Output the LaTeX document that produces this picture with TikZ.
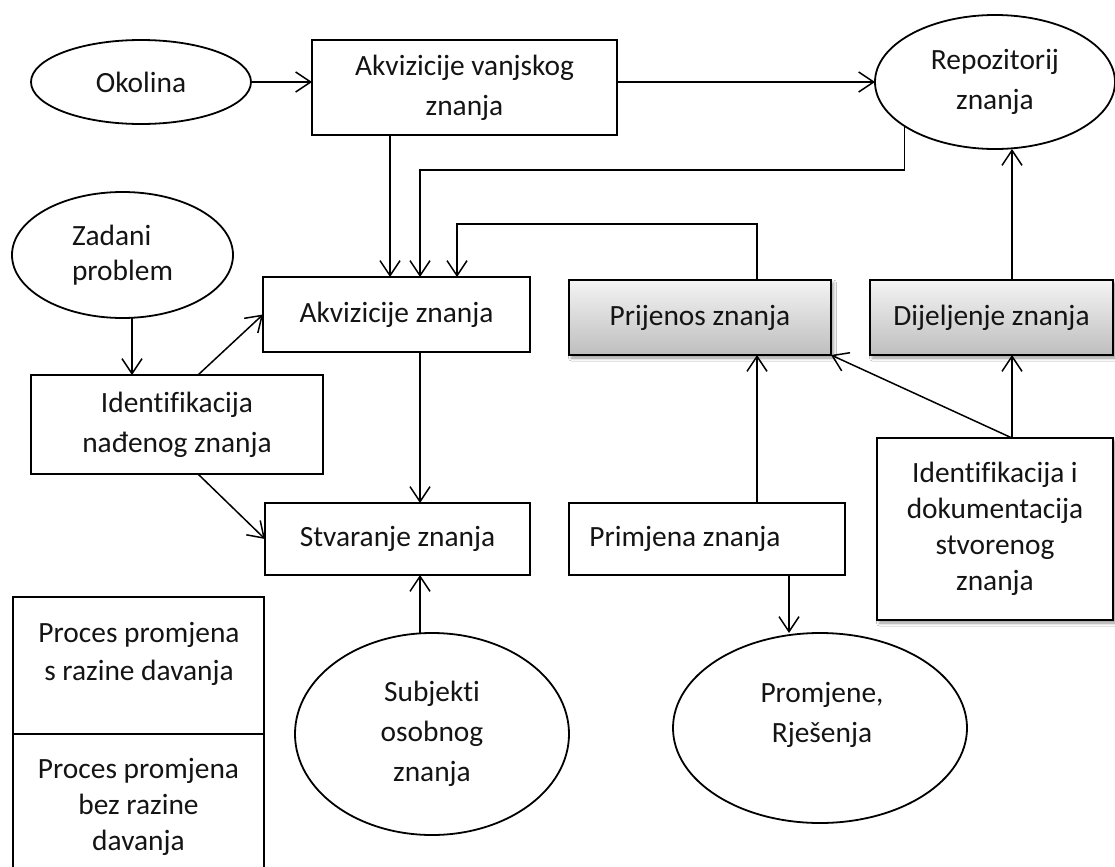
\documentclass[tikz,border=0pt]{standalone}
\usepackage{fontspec}
\setmainfont[Ligatures={NoCommon}]{Carlito}
\usetikzlibrary{arrows.meta,shapes.geometric,shadows.blur}
\definecolor{boxtop}{RGB}{244,244,244}
\definecolor{boxbottom}{RGB}{190,190,190}
\definecolor{ink}{RGB}{20,20,20}
\begin{document}
\begin{tikzpicture}[x=1bp,y=-1bp,
  font=\fontsize{29.5}{40}\selectfont,
  every node/.style={text=ink},
  box/.style={draw=black, line width=1.8bp, rectangle, inner sep=0pt, outer sep=0pt, align=center},
  oval/.style={draw=black, line width=1.8bp, ellipse, inner sep=0pt, outer sep=0pt, align=center},
  softshadow/.style={blur shadow={shadow xshift=2.5bp, shadow yshift=-3bp, shadow blur radius=3bp, shadow opacity=40}},
  greybox/.style={box, top color=boxtop, bottom color=boxbottom, softshadow},
  txt/.style={inner sep=0pt, align=center},
  link/.style={draw=black, line width=1.5bp},
  arr/.style={link, -{Straight Barb[length=15bp,width=20bp]}},
]
% canvas
\fill[white] (0,0) rectangle (1115,867);
\useasboundingbox (0,0) rectangle (1115,867);

% top row
\node[oval, minimum width=220bp, minimum height=84bp] (ok) at (141,82) {Okolina};
\node[box, minimum width=305bp, minimum height=95bp] (vanj) at (464.5,87.5) {Akvizicije vanjskog\\znanja};
\node[oval, minimum width=240bp, minimum height=134bp] (repo) at (995,82) {Repozitorij\\znanja};

% left column
\node[oval, minimum width=221bp, minimum height=126bp, align=left] (zad) at (122.5,255) {Zadani\\[-5bp]problem};
\node[box, minimum width=292bp, minimum height=99bp] (idn) at (177,424.5) {Identifikacija\\nađenog znanja};

% middle processes
\node[box, minimum width=267bp, minimum height=75bp] (akz) at (396.5,314.5) {Akvizicije znanja};
\node[box, minimum width=265bp, minimum height=72bp] (stv) at (397.5,539) {Stvaranje znanja};
\node[greybox, minimum width=262bp, minimum height=75bp] (prij) at (700,317.5) {Prijenos znanja};
\node[greybox, minimum width=243bp, minimum height=75bp] (dij) at (991.5,317.5) {Dijeljenje znanja};
\node[box, minimum width=276bp, minimum height=72bp] (prim) at (707,539) {};
\node[txt] (primt) at (685,539) {Primjena znanja};
\node[box, fill=white, softshadow, minimum width=236bp, minimum height=182bp] (idd) at (995,529)
  {Identifikacija i\\[-4bp]dokumentacija\\[-4bp]stvorenog\\[-4bp]znanja};

% bottom ellipses
\node[oval, minimum width=274bp, minimum height=202bp] (subj) at (432,734) {Subjekti\\osobnog\\znanja};
\node[oval, minimum width=294bp, minimum height=190bp] (prom) at (820,728) {};
\node[txt] (promt) at (822,715) {Promjene,\\Rješenja};

% legend
\node[box, minimum width=251bp, minimum height=137bp] (leg1) at (138.5,665.5) {};
\node[txt] (leg1t) at (139,654) {Proces promjena\\[-2bp]s razine davanja};
\node[box, minimum width=251bp, minimum height=146bp] (leg2) at (138.5,807) {Proces promjena\\[-4bp]bez razine\\[-4bp]davanja};

% guide positions for the connectors
\coordinate (xa) at (390,0);
\coordinate (xb) at (420,0);
\coordinate (xc) at (457,0);
\coordinate (xp) at (757,0);
\coordinate (xd) at (1012,0);
\coordinate (xz) at (132,0);
\coordinate (xi) at (198,0);
\coordinate (xr) at (789,0);
\coordinate (yb) at (0,170);
\coordinate (yc) at (0,224);

% connectors
\draw[arr] (ok.east) -- (ok.east -| vanj.west);
\draw[arr] (vanj.east |- repo.west) -- (repo.west);
\draw[arr] (vanj.south -| xa) -- (akz.north -| xa);
\draw[arr] (repo.206) |- (yb -| xb) -- (akz.north -| xb);
\draw[arr] (prij.north -| xp) |- (yc -| xc) -- (akz.north -| xc);
\draw[arr] (dij.north -| xd) -- (repo.south -| xd);
\draw[arr] (zad.south -| xz) -- (idn.north -| xz);
\draw[arr] (idn.north -| xi) -- (akz.west);
\draw[arr] (idn.south -| xi) -- (stv.west);
\draw[arr] (akz.south -| xb) -- (stv.north -| xb);
\draw[arr] (subj.north -| xb) -- (stv.south -| xb);
\draw[arr] (prim.north -| xp) -- (prij.south -| xp);
\draw[arr] (prim.south -| xr) -- (prom.north -| xr);
\draw[arr] (idd.north -| xd) -- (dij.south -| xd);
\draw[arr] (idd.north -| xd) -- (prij.south east);
\end{tikzpicture}
\end{document}
